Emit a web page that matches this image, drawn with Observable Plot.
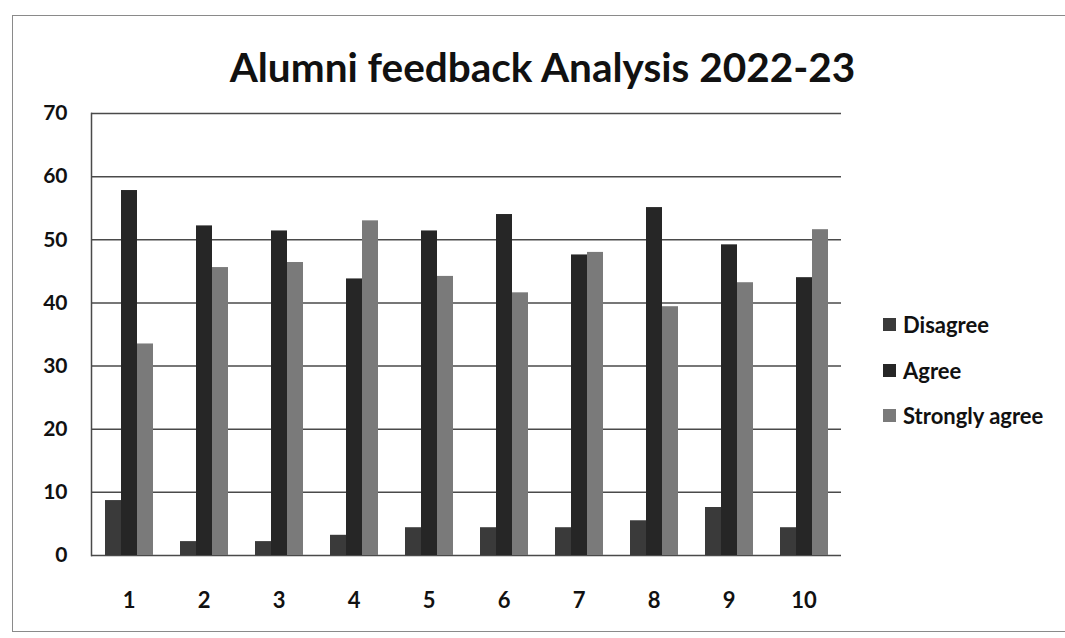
<!DOCTYPE html>
<html>
<head>
<meta charset="utf-8">
<script src="https://cdn.jsdelivr.net/npm/d3@7"></script>
<script src="https://cdn.jsdelivr.net/npm/@observablehq/plot@0.6"></script>
<style>
  body { margin: 0; background: #fff; font-family: Lato, "Open Sans", sans-serif; }
  #frame { position: absolute; left: 12px; top: 15px; width: 1070px; height: 617px; border: 1.5px solid #8a8a8a; box-sizing: border-box; }
  #title { position: absolute; left: 10px; width: 1065px; top: 42px; text-align: center; font-weight: 700; font-size: 40.5px; color: #111; }
  #chart { position: absolute; left: 0; top: 100px; }
  #legend { position: absolute; left: 883px; top: 302px; color: #111; }
  .item { display: flex; align-items: center; height: 45.5px; font-weight: 700; font-size: 22px; }
  .sw { width: 13px; height: 13px; margin-right: 7px; }
</style>
</head>
<body>
<div id="frame"></div>
<div id="title">Alumni feedback Analysis 2022-23</div>
<div id="chart"></div>
<div id="legend"></div>
<script>
const categories = ["1", "2", "3", "4", "5", "6", "7", "8", "9", "10"];
const series = ["Disagree", "Agree", "Strongly agree"];
const disagree = [8.7, 2.2, 2.2, 3.2, 4.4, 4.4, 4.4, 5.5, 7.6, 4.4];
const agree = [57.8, 52.2, 51.4, 43.8, 51.4, 54.0, 47.6, 55.1, 49.2, 44.0];
const stronglyAgree = [33.5, 45.6, 46.4, 53.0, 44.2, 41.6, 48.0, 39.4, 43.2, 51.6];
const colors = ["#3a3a3a", "#262626", "#7a7a7a"];
const yTicks = [0, 10, 20, 30, 40, 50, 60, 70];

const valuesBySeries = [disagree, agree, stronglyAgree];
const data = categories.flatMap((c, i) =>
  series.map((s, j) => ({ category: c, series: s, value: valuesBySeries[j][i] }))
);

const chart = Plot.plot({
  width: 1065,
  height: 530,
  marginLeft: 87,
  marginRight: 220,
  marginTop: 13,
  marginBottom: 75,
  style: { fontFamily: "Lato, 'Open Sans', sans-serif", color: "#111", background: "transparent" },
  fx: { domain: categories, padding: 0, label: null },
  x: { domain: series, axis: null, paddingInner: 0, paddingOuter: 0.75 },
  y: { domain: [0, 70], label: null },
  color: { domain: series, range: colors },
  marks: [
    Plot.gridY(yTicks, { stroke: "#4a4a4a", strokeOpacity: 1, strokeWidth: 1.5 }),
    Plot.frame({ anchor: "left", facetAnchor: "left", stroke: "#4a4a4a", strokeWidth: 1.5 }),
    Plot.barY(data, { fx: "category", x: "series", y: "value", fill: "series" }),
    Plot.axisY(yTicks, { anchor: "left", tickSize: 0, tickPadding: 24, fontSize: 21, fontWeight: 700, label: null }),
    Plot.axisFx({ anchor: "bottom", tickSize: 0, tickPadding: 37, fontSize: 22, fontWeight: 700, label: null })
  ]
});
document.getElementById("chart").appendChild(chart);

const legend = document.getElementById("legend");
series.forEach((s, i) => {
  const item = document.createElement("div");
  item.className = "item";
  const sw = document.createElement("span");
  sw.className = "sw";
  sw.style.background = colors[i];
  const label = document.createElement("span");
  label.textContent = s;
  item.appendChild(sw);
  item.appendChild(label);
  legend.appendChild(item);
});
</script>
</body>
</html>
